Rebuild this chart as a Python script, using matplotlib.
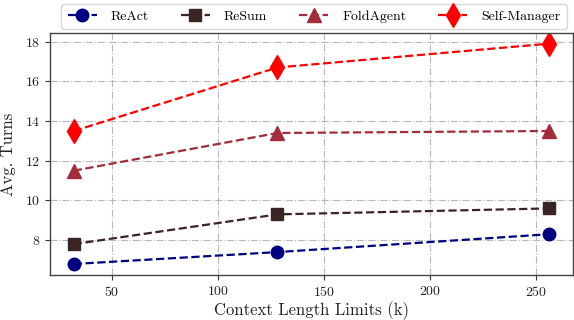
import matplotlib
matplotlib.use("Agg")
import matplotlib.pyplot as plt

plt.rcParams["font.family"] = "serif"
plt.rcParams["font.serif"] = ["cmr10", "DejaVu Serif"]
plt.rcParams["mathtext.fontset"] = "cm"
plt.rcParams["axes.formatter.use_mathtext"] = True

context_k = [32, 128, 256]
react = [6.8, 7.4, 8.3]
resum = [7.8, 9.3, 9.6]
foldagent = [11.5, 13.4, 13.5]
self_manager = [13.5, 16.7, 17.9]

series = [
    ("ReAct", react, "#000080", "o", 9),
    ("ReSum", resum, "#3B2424", "s", 9),
    ("FoldAgent", foldagent, "#A02C3C", "^", 9.5),
    ("Self-Manager", self_manager, "#FF0000", "d", 12),
]

fig = plt.figure(figsize=(5.74, 3.2), dpi=100)
ax = fig.add_axes([0.0871, 0.1406, 0.9109, 0.7574])

for name, vals, color, marker, ms in series:
    ax.plot(context_k, vals, linestyle="--", linewidth=1.6, color=color,
            marker=marker, markersize=ms, label=name)

ax.grid(True, linestyle="-.", color="#b8b8b8", linewidth=0.8)
ax.set_axisbelow(True)
ax.set_yticks([8, 10, 12, 14, 16, 18])
ax.set_xticks([50, 100, 150, 200, 250])
ax.tick_params(axis="both", labelsize=10, colors="#333333", labelcolor="#222222")
for s in ax.spines.values():
    s.set_color("#444444")
    s.set_linewidth(1.0)

ax.set_xlabel("Context Length Limits (k)", fontsize=12, color="#222222", labelpad=2)
ax.set_ylabel("Avg. Turns", fontsize=12, color="#222222", labelpad=6)

leg = ax.legend(loc="lower center", bbox_to_anchor=(0.505, 1.0), ncol=4,
                fontsize=10, frameon=True, columnspacing=2.3, handlelength=2.1,
                borderpad=0.45, handletextpad=1.0, borderaxespad=0.25)
leg.get_frame().set_edgecolor("#cccccc")

fig.savefig("out.png", dpi=100)
